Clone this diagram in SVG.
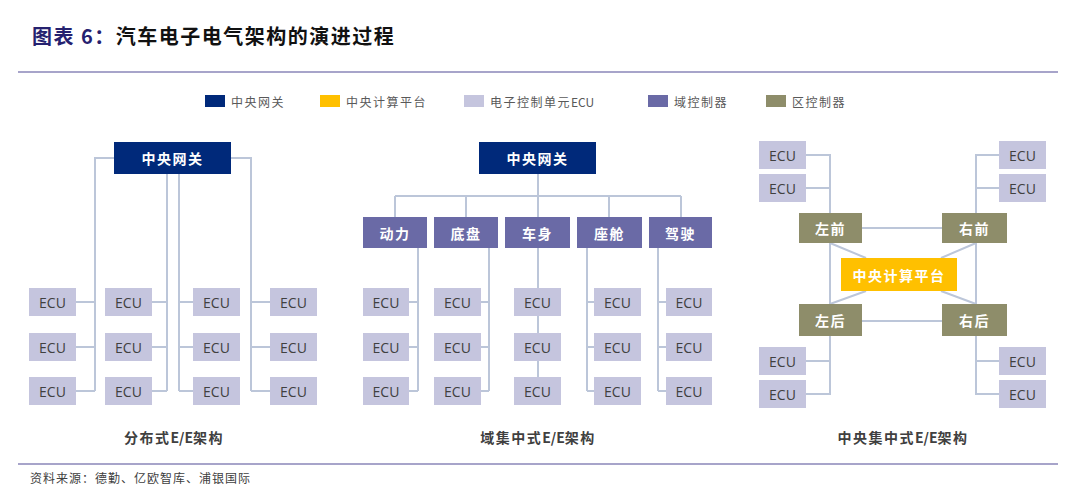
<svg xmlns="http://www.w3.org/2000/svg" width="1080" height="486" viewBox="0 0 1080 486">
<style>
.gw{fill:#00297A}
.ecu{fill:#C5C5DE}
.dom{fill:#6A6AA6}
.zone{fill:#8E8D6A}
.cpu{fill:#FFC000}
.wt{fill:#FFFFFF;font-family:"Noto Sans CJK SC",sans-serif;font-weight:bold;font-size:14px;letter-spacing:1.5px;text-anchor:middle;dominant-baseline:central}
.et{fill:#404040;font-family:"Open Sans","Liberation Sans",sans-serif;font-size:14px;text-anchor:middle;dominant-baseline:central}
.lg{fill:#595959;font-family:"Noto Sans CJK SC",sans-serif;font-size:12px;letter-spacing:1.5px;dominant-baseline:central}
.cap{fill:#404040;font-family:"Noto Sans CJK SC",sans-serif;font-weight:bold;font-size:14px;letter-spacing:1.5px;text-anchor:middle;dominant-baseline:central}
.tight{letter-spacing:0}
.ln{stroke:#BCC6D9;stroke-width:2;fill:none}
</style>
<rect width="1080" height="486" fill="#FFFFFF"/>
<g id="title">
<text x="32" y="44" font-family="Noto Sans CJK SC, sans-serif" font-weight="bold" font-size="20" letter-spacing="1.5"><tspan fill="#25216F">图表 6：</tspan><tspan fill="#111111">汽车电子电气架构的演进过程</tspan></text>
</g>
<line x1="18" y1="72" x2="1058" y2="72" stroke="#8A86B8" stroke-width="1.5"/>
<line x1="18" y1="464" x2="1058" y2="464" stroke="#8A86B8" stroke-width="1.5"/>
<g id="legend">
<rect x="205" y="95" width="20" height="12" class="gw"/><text x="231" y="101" class="lg">中央网关</text>
<rect x="320" y="95" width="20" height="12" class="cpu"/><text x="346" y="101" class="lg">中央计算平台</text>
<rect x="464" y="95" width="20" height="12" class="ecu"/><text x="490" y="101" class="lg">电子控制单元<tspan class="tight">ECU</tspan></text>
<rect x="648" y="95" width="20" height="12" class="dom"/><text x="674" y="101" class="lg">域控制器</text>
<rect x="766" y="95" width="20" height="12" class="zone"/><text x="792" y="101" class="lg">区控制器</text>
</g>
<g id="connectors">
<path class="ln" d="M114 158H95V391M76 302H95M76 347H95M76 391H95"/>
<path class="ln" d="M167 174V391M152 302H167M152 347H167M152 391H167"/>
<path class="ln" d="M179 174V391M193 302H179M193 347H179M193 391H179"/>
<path class="ln" d="M231 158H251V391M270 302H251M270 347H251M270 391H251"/>
<path class="ln" d="M538 174V196M395 196H681M395 196V217M466 196V217M538 196V217M609 196V217M681 196V217"/>
<path class="ln" d="M418 248V391M409 302H418M409 347H418M409 391H418"/>
<path class="ln" d="M489 248V391M481 302H489M481 347H489M481 391H489"/>
<path class="ln" d="M538 248V377"/>
<path class="ln" d="M587 248V391M594 302H587M594 347H587M594 391H587"/>
<path class="ln" d="M658 248V391M666 302H658M666 347H658M666 391H658"/>
<path class="ln" d="M806 155H830V213M806 188H830"/>
<path class="ln" d="M999 155H976V213M999 188H976"/>
<path class="ln" d="M830 336V394H806M806 361H830"/>
<path class="ln" d="M976 336V394H999M999 361H976"/>
<path class="ln" d="M862 228H942M862 321H942M830 243V304M976 243V304"/>
<path class="ln" d="M830 243L866 258M976 243L941 258M866 291L830 304M941 291L976 304"/>
</g>
<g id="p1-gateway"><rect x="114" y="142" width="117" height="32" class="gw"/><text x="172.5" y="158" class="wt">中央网关</text></g>
<g id="p1-ecus">
<rect x="29" y="288" width="47" height="28" class="ecu"/><text x="52.5" y="302" class="et">ECU</text>
<rect x="29" y="333" width="47" height="28" class="ecu"/><text x="52.5" y="347" class="et">ECU</text>
<rect x="29" y="377" width="47" height="28" class="ecu"/><text x="52.5" y="391" class="et">ECU</text>
<rect x="105" y="288" width="47" height="28" class="ecu"/><text x="128.5" y="302" class="et">ECU</text>
<rect x="105" y="333" width="47" height="28" class="ecu"/><text x="128.5" y="347" class="et">ECU</text>
<rect x="105" y="377" width="47" height="28" class="ecu"/><text x="128.5" y="391" class="et">ECU</text>
<rect x="193" y="288" width="47" height="28" class="ecu"/><text x="216.5" y="302" class="et">ECU</text>
<rect x="193" y="333" width="47" height="28" class="ecu"/><text x="216.5" y="347" class="et">ECU</text>
<rect x="193" y="377" width="47" height="28" class="ecu"/><text x="216.5" y="391" class="et">ECU</text>
<rect x="270" y="288" width="47" height="28" class="ecu"/><text x="293.5" y="302" class="et">ECU</text>
<rect x="270" y="333" width="47" height="28" class="ecu"/><text x="293.5" y="347" class="et">ECU</text>
<rect x="270" y="377" width="47" height="28" class="ecu"/><text x="293.5" y="391" class="et">ECU</text>
</g>
<text x="174" y="437" class="cap">分布式<tspan class="tight">E/E</tspan>架构</text>
<g id="p2-gateway"><rect x="479" y="142" width="117" height="32" class="gw"/><text x="537.5" y="158" class="wt">中央网关</text></g>
<g id="p2-domains">
<rect x="363" y="217" width="64" height="31" class="dom"/><text x="395" y="232.5" class="wt">动力</text>
<rect x="434" y="217" width="64" height="31" class="dom"/><text x="466" y="232.5" class="wt">底盘</text>
<rect x="505" y="217" width="65" height="31" class="dom"/><text x="537.5" y="232.5" class="wt">车身</text>
<rect x="577" y="217" width="65" height="31" class="dom"/><text x="609.5" y="232.5" class="wt">座舱</text>
<rect x="649" y="217" width="63" height="31" class="dom"/><text x="680.5" y="232.5" class="wt">驾驶</text>
</g>
<g id="p2-ecus">
<rect x="363" y="288" width="46" height="28" class="ecu"/><text x="386" y="302" class="et">ECU</text>
<rect x="363" y="333" width="46" height="28" class="ecu"/><text x="386" y="347" class="et">ECU</text>
<rect x="363" y="377" width="46" height="28" class="ecu"/><text x="386" y="391" class="et">ECU</text>
<rect x="434" y="288" width="47" height="28" class="ecu"/><text x="457.5" y="302" class="et">ECU</text>
<rect x="434" y="333" width="47" height="28" class="ecu"/><text x="457.5" y="347" class="et">ECU</text>
<rect x="434" y="377" width="47" height="28" class="ecu"/><text x="457.5" y="391" class="et">ECU</text>
<rect x="514" y="288" width="47" height="28" class="ecu"/><text x="537.5" y="302" class="et">ECU</text>
<rect x="514" y="333" width="47" height="28" class="ecu"/><text x="537.5" y="347" class="et">ECU</text>
<rect x="514" y="377" width="47" height="28" class="ecu"/><text x="537.5" y="391" class="et">ECU</text>
<rect x="594" y="288" width="47" height="28" class="ecu"/><text x="617.5" y="302" class="et">ECU</text>
<rect x="594" y="333" width="47" height="28" class="ecu"/><text x="617.5" y="347" class="et">ECU</text>
<rect x="594" y="377" width="47" height="28" class="ecu"/><text x="617.5" y="391" class="et">ECU</text>
<rect x="666" y="288" width="46" height="28" class="ecu"/><text x="689" y="302" class="et">ECU</text>
<rect x="666" y="333" width="46" height="28" class="ecu"/><text x="689" y="347" class="et">ECU</text>
<rect x="666" y="377" width="46" height="28" class="ecu"/><text x="689" y="391" class="et">ECU</text>
</g>
<text x="538" y="437" class="cap">域集中式<tspan class="tight">E/E</tspan>架构</text>
<g id="p3-zones">
<rect x="799" y="213" width="63" height="30" class="zone"/><text x="830.5" y="228" class="wt">左前</text>
<rect x="942" y="213" width="65" height="30" class="zone"/><text x="974.5" y="228" class="wt">右前</text>
<rect x="799" y="304" width="63" height="32" class="zone"/><text x="830.5" y="320" class="wt">左后</text>
<rect x="942" y="304" width="65" height="32" class="zone"/><text x="974.5" y="320" class="wt">右后</text>
</g>
<g id="p3-cpu"><rect x="841" y="258" width="116" height="33" class="cpu"/><text x="899" y="274.5" class="wt">中央计算平台</text></g>
<g id="p3-ecus">
<rect x="759" y="141" width="47" height="28" class="ecu"/><text x="782.5" y="155" class="et">ECU</text>
<rect x="759" y="174" width="47" height="28" class="ecu"/><text x="782.5" y="188" class="et">ECU</text>
<rect x="759" y="347" width="47" height="28" class="ecu"/><text x="782.5" y="361" class="et">ECU</text>
<rect x="759" y="380" width="47" height="28" class="ecu"/><text x="782.5" y="394" class="et">ECU</text>
<rect x="999" y="141" width="47" height="28" class="ecu"/><text x="1022.5" y="155" class="et">ECU</text>
<rect x="999" y="174" width="47" height="28" class="ecu"/><text x="1022.5" y="188" class="et">ECU</text>
<rect x="999" y="347" width="47" height="28" class="ecu"/><text x="1022.5" y="361" class="et">ECU</text>
<rect x="999" y="380" width="47" height="28" class="ecu"/><text x="1022.5" y="394" class="et">ECU</text>
</g>
<text x="903" y="437" class="cap">中央集中式<tspan class="tight">E/E</tspan>架构</text>
<text x="30" y="477" fill="#404040" font-family="Noto Sans CJK SC, sans-serif" font-size="12" letter-spacing="1" dominant-baseline="central">资料来源：德勤、亿欧智库、浦银国际</text>
</svg>
